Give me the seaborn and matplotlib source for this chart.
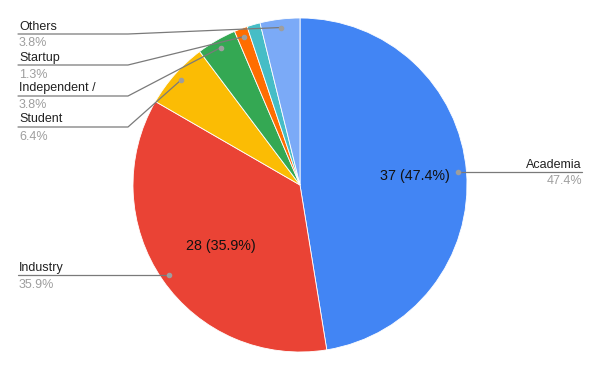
import numpy as np
import matplotlib
matplotlib.use("Agg")
from matplotlib import pyplot as plt
import seaborn as sns

categories = ["Academia", "Industry", "Student", "Independent /", "Startup", "", "Others"]
counts = [37, 28, 5, 3, 1, 1, 3]
colors = ["#4285F4", "#EA4335", "#FBBC04", "#34A853", "#FF6D01", "#46BDC6", "#7BAAF7"]
inside = ["Academia", "Industry"]

sns.set_style("white")
plt.rcParams['font.family'] = ['Liberation Sans', 'DejaVu Sans']

W, H = 600, 371
fig = plt.figure(figsize=(6, 3.71), dpi=100)
ax = fig.add_axes([0, 0, 1, 1])

cx, cy, r = 300, H - 185, 167
wedges, _ = ax.pie(counts, colors=colors, startangle=90, counterclock=False,
                   center=(cx, cy), radius=r, frame=True,
                   wedgeprops=dict(linewidth=0.6, edgecolor='white'))
ax.set_xlim(0, W)
ax.set_ylim(0, H)
ax.set_aspect('equal')
ax.axis('off')

total = sum(counts)
pct = [100 * c / total for c in counts]

# leader line layout (pixel rows from top) for labelled slices
line_y = {"Others": 34, "Startup": 65, "Independent /": 96, "Student": 127, "Industry": 275, "Academia": 172}
elbow_x = 128
line_col = "#7a7a7a"
pct_col = "#9e9e9e"
fs = 9

for w, name, c, p in zip(wedges, categories, counts, pct):
    mid = np.deg2rad((w.theta1 + w.theta2) / 2)
    if name in inside:
        d = 0.67 * r if name == "Academia" else 0.6 * r
        off = 0 if name == "Academia" else -4
        ax.text(cx + d * np.cos(mid) + 3, cy + d * np.sin(mid) + off, f"{c} ({p:.1f}%)",
                ha='center', va='center', fontsize=10.3, color='#111111')
    if not name:
        continue
    dx, dy = cx + 0.95 * r * np.cos(mid), cy + 0.95 * r * np.sin(mid)
    ly = H - line_y[name]
    ax.plot([dx], [dy], 'o', ms=3, color=pct_col, zorder=5)
    if name == "Academia":
        ax.plot([dx, 582], [ly, ly], color=line_col, lw=0.9)
        ax.text(582, ly + 1.5, name, ha='right', va='bottom', fontsize=fs, color='#222222')
        ax.text(582, ly - 3.5, f"{p:.1f}%", ha='right', va='top', fontsize=fs, color=pct_col)
    else:
        if name == "Industry":
            ax.plot([18, dx], [ly, ly], color=line_col, lw=0.9)
        else:
            ax.plot([18, elbow_x, dx], [ly, ly, dy], color=line_col, lw=0.9)
        ax.text(19, ly + 1.5, name, ha='left', va='bottom', fontsize=fs, color='#222222')
        ax.text(19, ly - 3.5, f"{p:.1f}%", ha='left', va='top', fontsize=fs, color=pct_col)

fig.savefig("out.png", dpi=100)
plt.close()
